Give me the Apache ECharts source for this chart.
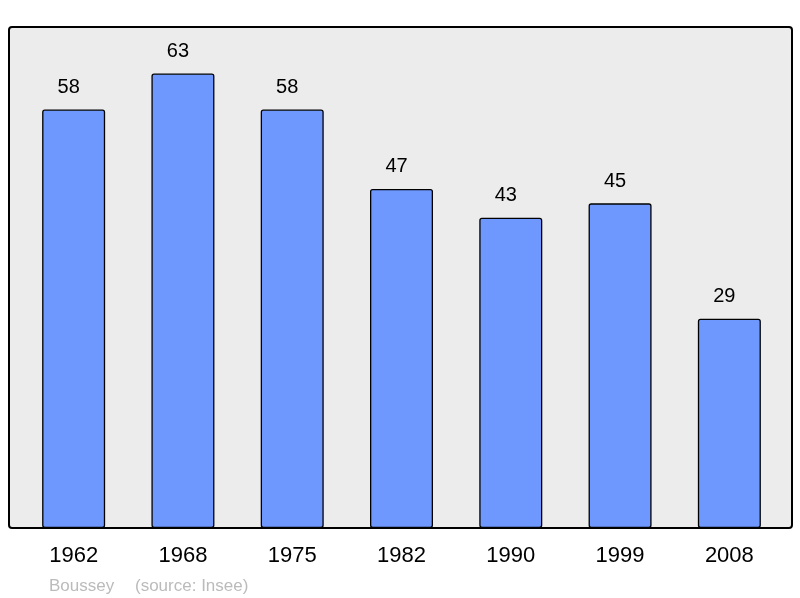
<!DOCTYPE html>
<html>
<head>
<meta charset="utf-8">
<script src="https://cdn.jsdelivr.net/npm/echarts@6/dist/echarts.min.js"></script>
<style>
  html, body { margin: 0; padding: 0; background: #fff; }
  #chart { width: 800px; height: 598px; }
</style>
</head>
<body>
<div id="chart"></div>
<script>
const years = ['1962', '1968', '1975', '1982', '1990', '1999', '2008'];
const population = [58, 63, 58, 47, 43, 45, 29];
const townName = 'Boussey';
const sourceText = '(source: Insee)';

const chart = echarts.init(document.getElementById('chart'));

const footerFont = '17px "Liberation Sans", Arial, sans-serif';

const option = {
    animation: false,
    textStyle: { fontFamily: 'Liberation Sans, Arial, sans-serif' },
    grid: {
        left: 19,
        right: 16,
        top: 23,
        bottom: 70
    },
    graphic: [
        {
            type: 'rect',
            z: -10,
            shape: { x: 9, y: 27, width: 783, height: 501, r: 3 },
            style: { fill: '#ececec', stroke: '#000', lineWidth: 2 }
        },
        {
            type: 'text',
            left: 49,
            top: 578,
            style: { text: townName, fill: '#bbbbbb', font: footerFont }
        },
        {
            type: 'text',
            left: 135,
            top: 578,
            style: { text: sourceText, fill: '#bbbbbb', font: footerFont }
        }
    ],
    xAxis: {
        type: 'category',
        data: years,
        axisLine: { show: false },
        axisTick: { show: false },
        axisLabel: {
            color: '#000',
            fontSize: 22,
            margin: 17
        }
    },
    yAxis: {
        type: 'value',
        min: 0,
        max: 70,
        show: false,
        splitLine: { show: false }
    },
    series: [
        {
            type: 'bar',
            data: population,
            barWidth: 63,
            itemStyle: {
                color: '#6f98ff',
                borderColor: '#000',
                borderWidth: 1.3,
                borderRadius: 2
            },
            label: {
                show: true,
                position: 'top',
                distance: 12,
                offset: [-5, 0],
                color: '#000',
                fontSize: 20
            }
        }
    ]
};

chart.setOption(option);
</script>
</body>
</html>
